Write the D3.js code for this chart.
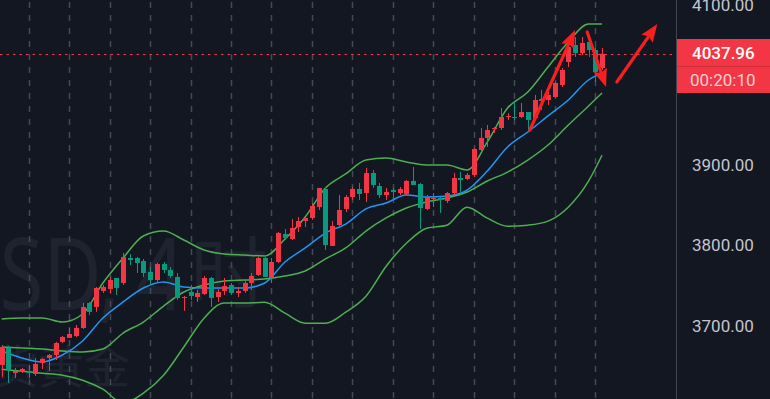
<!DOCTYPE html>
<html><head><meta charset="utf-8">
<script src="https://cdn.jsdelivr.net/npm/d3@7"></script>
<style>html,body{margin:0;padding:0;background:#131722;overflow:hidden}</style>
</head><body><svg id="c" width="770" height="399"></svg>
<script>
// ---- data ----
const openVals = [3650.2,3671.4,3640.2,3641.5,3642.7,3639.0,3652.7,3658.9,3662.7,3678.9,
3683.9,3686.3,3696.3,3727.5,3722.5,3742.4,3744.9,3758.6,3752.4,3783.5,
3783.5,3779.8,3766.1,3756.1,3776.0,3768.6,3759.9,3733.7,3741.2,3734.9,
3738.7,3758.6,3734.9,3742.4,3749.9,3739.9,3742.4,3752.4,3762.4,3783.5,
3758.6,3778.5,3813.4,3807.2,3822.2,3829.6,3833.4,3847.1,3869.5,3798.5,
3824.6,3844.6,3859.5,3869.5,3864.5,3889.4,3873.2,3862.0,3868.3,3864.5,
3863.3,3879.5,3875.7,3844.6,3857.0,3858.3,3854.6,3864.5,3883.2,3882.0,
3887.0,3918.1,3933.1,3944.3,3945.5,3959.2,3959.2,3959.2,3965.4,3958.0,
3979.2,3980.4,3984.1,3999.1,4027.7,4048.9,4039.0,4052.7,4042.7,4020.3];
const closeVals = [3672.6,3644.0,3642.7,3645.2,3640.2,3651.5,3657.7,3662.7,3677.6,3685.1,
3688.8,3696.3,3722.5,3716.3,3746.2,3747.4,3756.1,3746.2,3784.8,3781.0,
3777.3,3764.8,3756.1,3776.0,3768.6,3761.1,3733.7,3734.9,3736.2,3739.9,
3758.6,3733.7,3741.2,3748.6,3739.9,3742.4,3752.4,3761.1,3783.5,3759.9,
3778.5,3814.7,3808.5,3820.9,3829.6,3833.4,3848.3,3870.8,3799.7,3823.4,
3843.3,3859.5,3869.5,3863.3,3889.4,3874.5,3862.0,3865.8,3865.8,3869.5,
3879.5,3874.5,3845.8,3859.5,3858.3,3855.8,3864.5,3883.2,3880.7,3887.0,
3919.3,3933.1,3943.0,3945.5,3959.2,3960.5,3958.0,3965.4,3955.5,3980.4,
3981.6,3986.6,4001.6,4017.8,4046.4,4039.0,4051.4,4042.7,4015.3,4037.96];
const highVals = [3675.1,3674.0,3646.5,3646.5,3650.2,3658.9,3658.9,3663.9,3678.9,3686.3,
3696.3,3700.0,3727.5,3728.7,3747.4,3749.9,3759.9,3758.6,3789.8,3788.5,
3784.8,3782.3,3772.3,3777.3,3778.5,3772.3,3764.8,3736.2,3749.9,3743.7,
3761.1,3759.9,3744.9,3758.6,3752.4,3747.4,3756.1,3764.8,3784.8,3784.8,
3783.5,3815.9,3819.7,3832.1,3834.6,3834.6,3852.0,3870.8,3872.0,3829.6,
3862.0,3862.0,3872.0,3877.0,3895.7,3893.2,3877.0,3870.8,3870.8,3872.0,
3880.7,3896.9,3877.0,3862.0,3864.5,3859.5,3865.8,3889.4,3890.7,3889.4,
3920.5,3945.5,3949.3,3946.8,3970.4,3964.0,3977.9,3976.7,3965.4,3986.6,
3992.9,3995.4,4003.0,4020.3,4051.4,4058.9,4058.9,4057.7,4046.0,4045.2];
const lowVals = [3635.3,3627.8,3634.0,3640.2,3634.0,3636.5,3645.2,3642.7,3656.4,3677.6,
3683.9,3685.0,3695.1,3712.5,3716.3,3739.9,3739.9,3737.4,3749.9,3774.8,
3764.8,3759.9,3749.9,3752.4,3764.8,3758.6,3731.2,3717.5,3731.2,3728.7,
3737.4,3722.5,3728.7,3737.4,3737.4,3734.9,3739.9,3743.7,3761.1,3759.9,
3752.4,3777.3,3806.0,3806.0,3815.9,3822.2,3831.0,3843.3,3793.5,3798.5,
3822.2,3840.8,3855.8,3855.8,3853.3,3870.8,3858.3,3855.8,3855.8,3862.0,
3862.0,3874.5,3819.7,3843.3,3847.1,3839.6,3852.0,3862.0,3865.8,3880.7,
3884.5,3915.6,3921.8,3939.3,3943.0,3955.5,3955.5,3958.0,3943.0,3955.5,
3968.0,3974.2,3983.0,3996.6,4021.5,4034.0,4036.5,4034.0,4002.8,4017.8];

const bandIdx = [0,3,6,9,12,15,18,21,24,27,30,33,36,39,42,45,48,51,54,57,60,63,66,69,72,75,78,81,84,87,89];
const upperBand = [3707.5,3708.7,3708.7,3703.7,3713.7,3752.3,3783.5,3810.9,3817.1,3805.9,3793.5,3788.5,3787.2,3786.0,3807.2,3834.6,3870.7,3888.2,3905.6,3908.1,3903.1,3899.4,3899.4,3893.2,3928.1,3970.4,3990.3,4021.5,4052.6,4075.1,4075.1];
const middleBand = [3672.6,3671.4,3670.1,3667.6,3666.4,3670.1,3690.0,3703.7,3723.6,3741.1,3749.8,3754.8,3756.1,3757.3,3761.1,3767.3,3782.3,3796.0,3817.1,3833.4,3845.8,3853.3,3858.2,3865.7,3879.4,3890.6,3905.6,3924.3,3949.2,3972.9,3989.1];
const lowerBand = [3644.9,3642.4,3639.9,3637.4,3631.2,3620.0,3602.6,3615.0,3637.4,3672.6,3708.5,3727.3,3727.3,3728.4,3714.7,3702.2,3702.2,3715.9,3735.9,3773.3,3801.9,3820.6,3824.4,3846.8,3833.1,3823.1,3824.4,3829.4,3846.8,3879.2,3911.6];
const maLine = [3667.6,3658.9,3653.9,3662.6,3680.1,3708.7,3728.7,3746.1,3753.6,3747.4,3746.1,3746.1,3746.1,3752.3,3778.5,3796.0,3814.6,3825.8,3844.6,3852.0,3862.0,3859.5,3860.7,3868.2,3891.9,3921.8,3940.5,3960.5,3980.4,4005.3,4014.0];

const priceTicks = [4100, 4000, 3900, 3800, 3700];
const gridIdx = [4,10,16,22,28,34,40,46,52,58,64,70,76,82,88];
const lastPrice = 4037.96;
const countdown = "00:20:10";
const arrowFromIdx = [78.3, 86.8, 91.2];
const arrowFromPrice = [3943.0, 4065.1, 4002.8];
const arrowToIdx = [85.0, 89.6, 97.2];
const arrowToPrice = [4067.6, 3996.6, 4075.1];
const watermarkSymbol = "XAUUSD,";
const watermarkInterval = ["4", "时"];
const watermarkName = "现货黄金";

// ---- drawing ----
const W = 770, H = 399, plotRight = 676;
const svg = d3.select("#c");
svg.append("rect").attr("width", W).attr("height", H).attr("fill", "#131722");

const x = d3.scaleLinear().domain([0, 89]).range([1.7, 602]);
const y = d3.scaleLinear().domain([3700, 4100]).range([325, 4]);

svg.append("clipPath").attr("id", "plot").append("rect")
  .attr("x", 0).attr("y", 0).attr("width", plotRight).attr("height", H);
const g = svg.append("g").attr("clip-path", "url(#plot)");

// watermark
const wmCol = "#1f2330";
g.append("text").text(watermarkSymbol)
  .attr("transform", "translate(120,310) scale(0.8,1)").attr("text-anchor", "end")
  .attr("font-family", "'Noto Sans',sans-serif").attr("font-size", 100).attr("fill", wmCol);
g.append("text").text(watermarkInterval[0])
  .attr("transform", "translate(136,310) scale(0.85,1)")
  .attr("font-family", "'Noto Sans',sans-serif").attr("font-size", 100).attr("fill", wmCol);
g.append("text").text(watermarkInterval[1])
  .attr("x", 190).attr("y", 302)
  .attr("font-family", "'Noto Sans CJK SC',sans-serif").attr("font-size", 78).attr("fill", wmCol);
g.append("text").text(watermarkName)
  .attr("x", 130).attr("y", 383).attr("text-anchor", "end")
  .attr("font-family", "'Noto Sans CJK SC',sans-serif")
  .attr("font-size", 46).attr("fill", wmCol);

// vertical grid
g.selectAll("line.grid").data(gridIdx).join("line")
  .attr("class", "grid")
  .attr("x1", d => Math.round(x(d)) + 0.5).attr("x2", d => Math.round(x(d)) + 0.5)
  .attr("y1", 2).attr("y2", H)
  .attr("stroke", "#454955").attr("stroke-width", 1.5)
  .attr("stroke-dasharray", "6,7");

// bands
const lineGen = vals => d3.line()
  .x((d, i) => x(bandIdx[i])).y(d => y(d))
  .curve(d3.curveMonotoneX)(vals);
[[upperBand, "#4caf50"], [middleBand, "#4caf50"], [lowerBand, "#4caf50"], [maLine, "#2196f3"]]
  .forEach(([vals, col]) => {
    g.append("path").attr("d", lineGen(vals)).attr("fill", "none")
      .attr("stroke", col).attr("stroke-width", 1.5);
  });

// candles
const candles = openVals.map((o, i) => ({i, o, c: closeVals[i], h: highVals[i], l: lowVals[i]}));
const up = "#f23645", down = "#089981";
const cg = g.append("g");
cg.selectAll("line.wick").data(candles).join("line")
  .attr("x1", d => Math.round(x(d.i)) + 0.5).attr("x2", d => Math.round(x(d.i)) + 0.5)
  .attr("y1", d => y(d.h)).attr("y2", d => y(d.l))
  .attr("stroke", d => d.c >= d.o ? up : down).attr("stroke-width", 1);
cg.selectAll("rect.body").data(candles).join("rect")
  .attr("x", d => Math.round(x(d.i)) - 2).attr("width", 5)
  .attr("y", d => y(Math.max(d.o, d.c)))
  .attr("height", d => Math.max(1, Math.abs(y(d.o) - y(d.c))))
  .attr("fill", d => d.c >= d.o ? up : down);

// last price dotted line
g.append("line").attr("x1", 0).attr("x2", plotRight)
  .attr("y1", Math.round(y(lastPrice)) + 0.5).attr("y2", Math.round(y(lastPrice)) + 0.5)
  .attr("stroke", "#f23645").attr("stroke-width", 1).attr("stroke-dasharray", "2.5,4");

// arrows
const arrowCol = "#f71f1f";
arrowFromIdx.forEach((fi, k) => {
  const x1 = x(fi), y1 = y(arrowFromPrice[k]), x2 = x(arrowToIdx[k]), y2 = y(arrowToPrice[k]);
  const ang = Math.atan2(y2 - y1, x2 - x1);
  const hl = 18, hw = 7;
  const bx = x2 - hl * Math.cos(ang), by = y2 - hl * Math.sin(ang);
  g.append("line").attr("x1", x1).attr("y1", y1)
    .attr("x2", x2 - (hl - 2) * Math.cos(ang)).attr("y2", y2 - (hl - 2) * Math.sin(ang))
    .attr("stroke", arrowCol).attr("stroke-width", 3.2).attr("stroke-linecap", "round");
  const px = -Math.sin(ang), py = Math.cos(ang);
  g.append("polygon").attr("points", [
    [x2, y2], [bx + hw * px, by + hw * py], [bx + 3 * Math.cos(ang), by + 3 * Math.sin(ang)], [bx - hw * px, by - hw * py]
  ].map(p => p.join(",")).join(" ")).attr("fill", arrowCol);
});

// price axis
svg.append("line").attr("x1", plotRight + 0.5).attr("x2", plotRight + 0.5)
  .attr("y1", 0).attr("y2", H).attr("stroke", "#434651");
const axis = d3.axisRight(y).tickValues(priceTicks).tickFormat(d3.format(".2f")).tickSize(0).tickPadding(0);
const ag = svg.append("g").attr("transform", `translate(692,0)`).call(axis);
ag.select(".domain").remove();
ag.selectAll("text").attr("font-family", "Roboto, sans-serif").attr("font-size", 17)
  .attr("fill", "#c3c6ce").attr("x", 0).attr("dy", "0.36em");

// last price label
svg.append("rect").attr("x", plotRight + 1).attr("y", 39).attr("width", W - plotRight - 1).attr("height", 54).attr("fill", "#f23645");
svg.append("line").attr("x1", plotRight + 1).attr("x2", W).attr("y1", 66.5).attr("y2", 66.5).attr("stroke", "rgba(0,0,0,0.15)");
svg.append("text").text(d3.format(".2f")(lastPrice)).attr("x", 692).attr("y", 59)
  .attr("font-family", "Roboto, sans-serif").attr("font-size", 17).attr("font-weight", 500).attr("fill", "#ffffff");
svg.append("text").text(countdown).attr("x", 690).attr("y", 86)
  .attr("font-family", "Roboto, sans-serif").attr("font-size", 17).attr("fill", "#fcd0d4");
</script></body></html>
